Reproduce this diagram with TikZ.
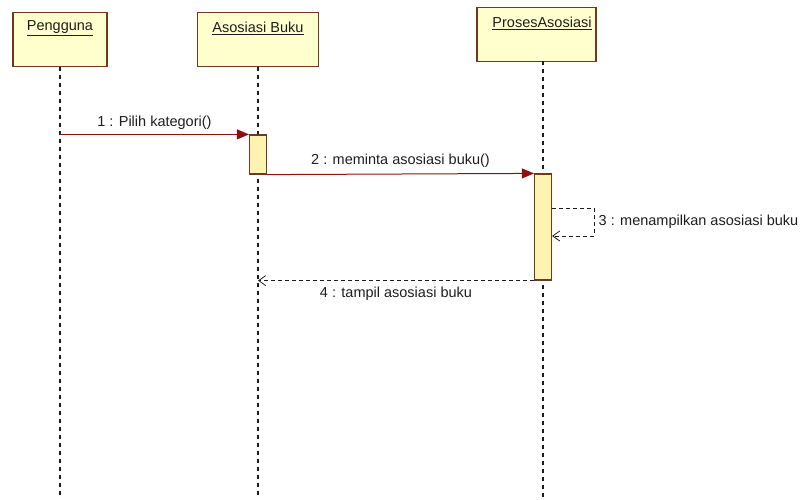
\documentclass[tikz,border=0pt]{standalone}
\usepackage{fontspec}
\setmainfont{Liberation Sans}
\usepackage{xcolor}
\usepackage{tikz}
\usetikzlibrary{arrows.meta,positioning,calc}

\definecolor{objfill}{RGB}{255,255,206}
\definecolor{objline}{RGB}{110,58,28}
\definecolor{actfill}{RGB}{255,243,178}
\definecolor{msgred}{RGB}{140,16,16}
\definecolor{txtgray}{RGB}{30,30,30}
\newcommand{\seqfont}{\fontsize{14.5}{17}\selectfont}

\begin{document}
\begin{tikzpicture}[x=1pt,y=-1pt,
    objbox/.style={draw=objline, fill=objfill, line width=1.3pt, minimum height=54pt, inner sep=0pt, anchor=north},
    objname/.style={font=\seqfont, text=txtgray, inner sep=0pt},
    actbox/.style={draw=objline, fill=actfill, line width=1.2pt, minimum width=17pt, inner sep=0pt},
    lifeline/.style={draw=txtgray, line width=1.1pt, dash pattern=on 4pt off 4pt},
    msg/.style={draw=msgred, line width=1pt, -{Triangle[length=12pt,width=10pt]}},
    ret/.style={draw=txtgray, line width=0.8pt, dash pattern=on 4pt off 3pt, -{Straight Barb[length=7pt,width=10pt]}},
    msglabel/.style={font=\seqfont, text=txtgray}]
    \useasboundingbox (0,0) rectangle (800,499);
    \coordinate (bottom) at (0,499);

    % Pengguna
    \node[objbox, minimum width=94pt] (pengguna) at (60,12) {};
    \node[objname] (penggunaName) at (60,28) {\underline{Pengguna}};
    \draw[lifeline] (pengguna.south) -- (pengguna.south |- bottom);

    % Asosiasi Buku
    \node[objbox, minimum width=121pt] (buku) at (258,12) {};
    \node[objname] (bukuName) at (258,28) {\underline{Asosiasi Buku}};
    \draw[lifeline] (buku.south) -- (buku.south |- bottom);

    % ProsesAsosiasi
    \node[objbox, minimum width=119pt] (proses) at (536.5,7) {};
    \node[objname] (prosesName) at (542,23) {\underline{ProsesAsosiasi}};
    \coordinate (prosesLine) at (543,61);
    \draw[lifeline] (prosesLine) -- (prosesLine |- bottom);

    % activations
    \node[actbox, minimum height=39pt] (act1) at (258,154.5) {};
    \node[actbox, minimum height=106pt] (act2) at (543,227) {};

    % messages
    \draw[msg] (pengguna.south |- act1.north) -- node[msglabel, above=1pt] (lbl1) {1 : Pilih kategori()} (act1.north west);
    \draw[msg] (act1.south east) -- node[msglabel, above=3pt] (lbl2) {2 : meminta asosiasi buku()} (act2.north west);

    \coordinate (selfTop) at (594,208);
    \coordinate (selfBot) at (594,236);
    \draw[ret] (act2.east |- selfTop) -- (selfTop) -- node[msglabel, right=1pt] (lbl3) {3 : menampilkan asosiasi buku} (selfBot) -- (act2.east |- selfBot);

    \draw[ret] (act2.south west) -- node[msglabel, below=3pt] (lbl4) {4 : tampil asosiasi buku} (buku.south |- act2.south west);
\end{tikzpicture}
\end{document}
